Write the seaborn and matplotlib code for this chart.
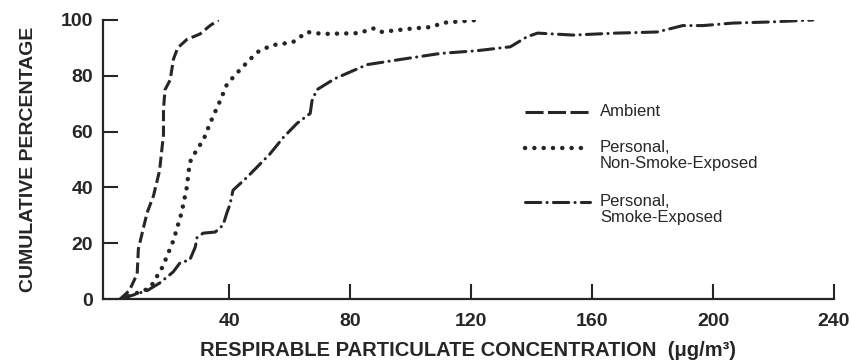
import matplotlib
matplotlib.use("Agg")
import matplotlib.pyplot as plt
import seaborn as sns
import pandas as pd

# ---- data ----
ambient_x = [4, 7, 9.6, 10, 12.9, 15, 17, 18.3, 18.3, 18.8, 20.5, 21.6, 23, 26, 30.4, 33.7, 36.5]
ambient_y = [0, 3, 9, 18, 31, 37, 46, 59, 68, 75, 78.5, 86, 90, 93, 95, 98, 100]

nonsmoke_x = [6.6, 11.7, 13.9, 18, 21.6, 24.3, 26, 27, 29.3, 31.5, 33.7, 37, 39.3, 42.6, 47, 50,
              54.5, 61, 65.8, 71, 83, 87.6, 90, 101, 107, 110.7, 122]
nonsmoke_y = [1, 3, 4, 11.5, 21, 31, 40, 49, 53.5, 57, 63, 71, 77, 81, 86, 89,
              91, 92, 95.7, 95, 95.3, 97, 95.7, 97, 97.5, 99, 100]

smoke_x = [4, 12.9, 17, 21.5, 23.8, 27, 28.8, 29.4, 31.4, 35.4, 38, 39.3, 40.3, 41.3, 46, 53.5,
           58, 62.5, 66.8, 67.4, 69, 75, 85.6, 97.5, 109.8, 122, 133, 138.5, 142, 153.7,
           168, 181.5, 190, 196.7, 206.6, 219, 233]
smoke_y = [0, 3, 5.7, 9.7, 13, 14, 18.6, 22, 23.6, 24, 26.5, 31, 34, 39, 43.7, 52,
           58, 63, 66.5, 71, 75, 79, 84, 86, 88, 89, 90.4, 94, 95.3, 94.6,
           95.3, 95.7, 98, 98, 98.9, 99.3, 100]

series_names = ["Ambient", "Personal,\nNon-Smoke-Exposed", "Personal,\nSmoke-Exposed"]
x_ticks = [40, 80, 120, 160, 200, 240]
y_ticks = [0, 20, 40, 60, 80, 100]

# ---- style ----
sns.set_style("ticks")
plt.rcParams["font.family"] = ["Liberation Sans", "DejaVu Sans"]
plt.rcParams["lines.scale_dashes"] = False
INK = "#262626"

W, H = 852, 361
fig = plt.figure(figsize=(W / 100, H / 100), dpi=100)
ax_l, ax_r, ax_t, ax_b = 103, 834, 20, 299
ax = fig.add_axes([ax_l / W, 1 - ax_b / H, (ax_r - ax_l) / W, (ax_b - ax_t) / H])

styles = [
    dict(dashes=(8, 3.2), lw=2.2),
    dict(linestyle=(0, (0.1, 6.6)), lw=3.2, dash_capstyle="round"),
    dict(linestyle=(0, (11, 4.5, 0.1, 4.5)), lw=2.2, dash_capstyle="round"),
]
data = [(ambient_x, ambient_y), (nonsmoke_x, nonsmoke_y), (smoke_x, smoke_y)]

for (xs, ys), name, st in zip(data, series_names, styles):
    df = pd.DataFrame({"x": xs, "y": ys})
    sns.lineplot(data=df, x="x", y="y", ax=ax, sort=False, estimator=None,
                 color=INK, linewidth=st["lw"])
    ln = ax.lines[-1]
    if "dashes" in st:
        ln.set_dashes(st["dashes"])
    else:
        ln.set_linestyle(st["linestyle"])
        ln.set_dash_capstyle(st["dash_capstyle"])

ax.set_xlim(-1.7, 240)
ax.set_ylim(0, 100)
ax.set_xticks(x_ticks)
ax.set_yticks(y_ticks)
ax.tick_params(axis="both", direction="in", length=11, width=1.5, color=INK,
               labelsize=14, labelcolor=INK)
ax.tick_params(axis="y", pad=7)
ax.tick_params(axis="x", pad=10)
for lab in ax.get_xticklabels() + ax.get_yticklabels():
    lab.set_fontweight("bold")
sns.despine(ax=ax)
for s in ["left", "bottom"]:
    ax.spines[s].set_linewidth(1.6)
    ax.spines[s].set_color(INK)

ax.set_xlabel("RESPIRABLE PARTICULATE CONCENTRATION  (\u03bcg/m\u00b3)", fontsize=14.5,
              fontweight="bold", color=INK, labelpad=8)
ax.set_ylabel("CUMULATIVE PERCENTAGE", fontsize=14, fontweight="bold", color=INK, labelpad=17)

# ---- legend (manual) ----
def fx(px):
    return px / W

def fy(py):
    return 1 - py / H

leg_rows = [112, 148, 202]
for row, name, st in zip(leg_rows, series_names, styles):
    ln = plt.Line2D([fx(525), fx(590)], [fy(row), fy(row)], transform=fig.transFigure,
                    color=INK, linewidth=st["lw"])
    if "dashes" in st:
        ln.set_dashes((13, 3.2))
    else:
        ln.set_linestyle(st["linestyle"])
        ln.set_dash_capstyle(st["dash_capstyle"])
    fig.add_artist(ln)
    fig.text(fx(600), fy(row - 8), name, fontsize=12, color=INK, va="top",
             linespacing=1.1, transform=fig.transFigure)

fig.savefig("out.png", dpi=100)
